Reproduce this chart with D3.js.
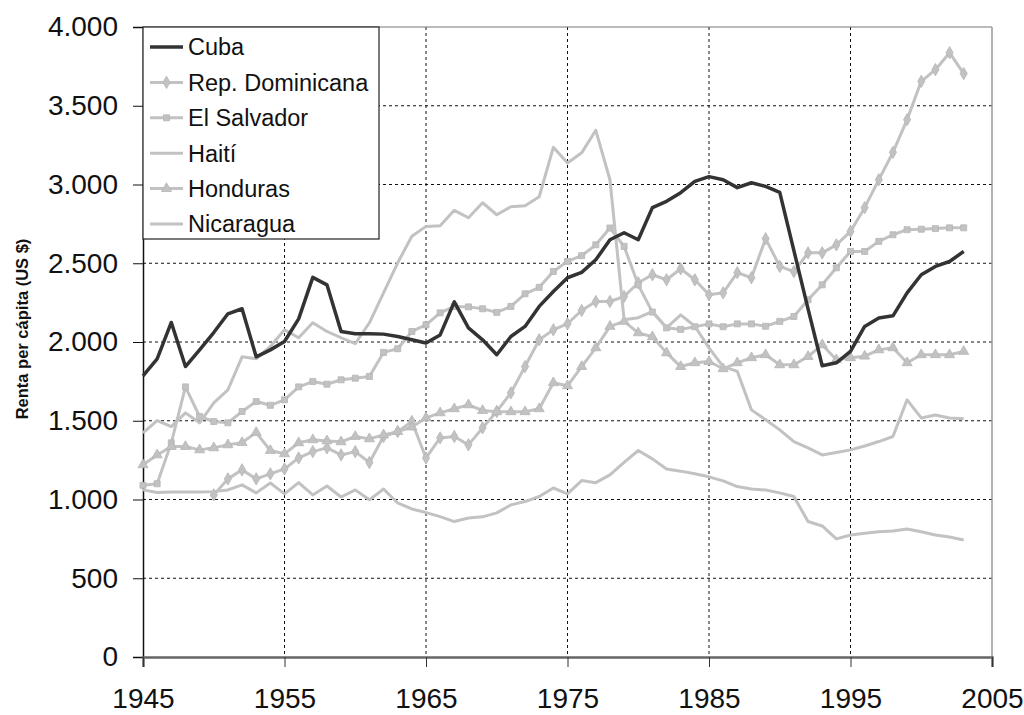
<!DOCTYPE html>
<html>
<head>
<meta charset="utf-8">
<script src="https://cdn.jsdelivr.net/npm/d3@7"></script>
<style>
  body { margin: 0; background: #fff; }
  svg { display: block; font-family: "Liberation Sans", Arial, sans-serif; }
</style>
</head>
<body>
<div id="chart"></div>
<script>
// años 1945..2003
var years = d3.range(1945, 2004);

var cuba = [1785,1893,2124,1844,1950,2060,2179,2211,1906,1950,
  2003,2147,2410,2363,2067,2052,2052,2050,2035,2014,
  1994,2045,2255,2090,2014,1919,2035,2099,2226,2321,
  2408,2442,2522,2649,2694,2649,2853,2893,2948,3020,
  3050,3030,2980,3011,2988,2950,2580,2210,1849,1868,
  1940,2099,2153,2166,2312,2427,2480,2511,2575];

var repDominicana = [null,null,null,null,null,1029,1131,1188,1131,1163,
  1194,1264,1304,1328,1283,1304,1235,1400,1431,1495,
  1264,1391,1400,1347,1455,1559,1677,1844,2014,2077,
  2116,2200,2257,2257,2289,2376,2427,2395,2465,2395,
  2300,2312,2440,2408,2656,2480,2447,2566,2566,2617,
  2702,2853,3030,3204,3412,3655,3729,3837,3704];

var elSalvador = [1090,1100,1360,1715,1527,1495,1487,1559,1622,1598,
  1633,1715,1749,1732,1760,1770,1781,1934,1957,2067,
  2109,2185,2226,2223,2211,2188,2226,2306,2347,2448,
  2512,2548,2617,2724,2607,2363,2190,2090,2080,2097,
  2115,2097,2115,2115,2100,2131,2162,2268,2363,2471,
  2575,2575,2639,2681,2713,2716,2720,2725,2725];

var haiti = [1061,1044,1047,1047,1047,1050,1061,1093,1042,1105,
  1036,1107,1029,1086,1016,1061,998,1067,978,940,
  917,891,860,883,890,915,966,987,1019,1073,
  1036,1120,1107,1156,1235,1311,1258,1194,1180,1163,
  1144,1118,1082,1067,1060,1042,1019,860,832,750,
  775,785,795,800,813,795,775,762,743];

var honduras = [1220,1283,1336,1336,1315,1328,1347,1361,1425,1311,
  1290,1360,1379,1372,1366,1400,1385,1410,1431,1460,
  1518,1550,1576,1601,1565,1557,1557,1557,1576,1741,
  1722,1844,1963,2099,2131,2058,2033,1931,1844,1868,
  1876,1830,1868,1900,1919,1855,1855,1908,1982,1887,
  1900,1910,1950,1963,1868,1919,1919,1919,1940];

var nicaragua = [1423,1501,1463,1550,1487,1614,1696,1906,1893,1972,
  2078,2027,2122,2067,2027,1989,2122,2312,2503,2671,
  2734,2738,2836,2789,2884,2808,2859,2865,2922,3236,
  3137,3201,3344,3030,2141,2154,2193,2090,2172,2100,
  1963,1844,1813,1569,1506,1442,1368,1328,1283,1298,
  1315,1340,1368,1400,1633,1518,1537,1518,1512];

var seriesNames = ["Cuba","Rep. Dominicana","El Salvador","Haití","Honduras","Nicaragua"];
var seriesValues = [cuba, repDominicana, elSalvador, haiti, honduras, nicaragua];
var seriesMarkers = [null, d3.symbolDiamond, d3.symbolSquare, null, d3.symbolTriangle, null];

var xTicks = [1945,1955,1965,1975,1985,1995,2005];
var yTicks = [0,500,1000,1500,2000,2500,3000,3500,4000];
var yTitle = "Renta per cápita (US $)";

var width = 1024, height = 715;
var plotLeft = 143, plotRight = 992, plotTop = 27, plotBottom = 657;
var gray = "#c2c2c2";

var locale = d3.formatLocale({decimal: ",", thousands: ".", grouping: [3], currency: ["", ""]});
var fmt = locale.format(",d");

var svg = d3.select("#chart").append("svg")
  .attr("width", width)
  .attr("height", height);

svg.append("rect").attr("width", width).attr("height", height).attr("fill", "#fff");

var x = d3.scaleLinear().domain([1945, 2005]).range([plotLeft, plotRight]);
var y = d3.scaleLinear().domain([0, 4000]).range([plotBottom, plotTop]);

// rejilla
svg.append("g")
  .selectAll("line")
  .data(yTicks.filter(function(d){ return d > 0 && d < 4000; }))
  .enter().append("line")
  .attr("x1", plotLeft).attr("x2", plotRight)
  .attr("y1", function(d){ return y(d); })
  .attr("y2", function(d){ return y(d); })
  .attr("stroke", "#111").attr("stroke-width", 1)
  .attr("stroke-dasharray", "3,3");

svg.append("g")
  .selectAll("line")
  .data(xTicks.filter(function(d){ return d > 1945 && d < 2005; }))
  .enter().append("line")
  .attr("x1", function(d){ return x(d); })
  .attr("x2", function(d){ return x(d); })
  .attr("y1", plotTop).attr("y2", plotBottom)
  .attr("stroke", "#111").attr("stroke-width", 1)
  .attr("stroke-dasharray", "3,3");

// borde del área
svg.append("line").attr("x1", plotLeft).attr("x2", plotRight).attr("y1", plotTop).attr("y2", plotTop)
  .attr("stroke", "#777").attr("stroke-width", 1);
svg.append("line").attr("x1", plotRight).attr("x2", plotRight).attr("y1", plotTop).attr("y2", plotBottom)
  .attr("stroke", "#999").attr("stroke-width", 1.5);

// ejes
var yAxis = svg.append("g")
  .attr("transform", "translate(" + plotLeft + ",0)")
  .call(d3.axisLeft(y).tickValues(yTicks).tickFormat(fmt).tickSize(10).tickPadding(15));
yAxis.select(".domain").attr("stroke", "#111").attr("stroke-width", 1.5);
yAxis.selectAll(".tick line").attr("stroke", "#111");
yAxis.selectAll("text").attr("font-size", 28).attr("fill", "#111")
  .attr("font-family", "Liberation Sans, Arial, sans-serif");

var xAxis = svg.append("g")
  .attr("transform", "translate(0," + plotBottom + ")")
  .call(d3.axisBottom(x).tickValues(xTicks).tickFormat(d3.format("d")).tickSize(10).tickPadding(21));
xAxis.select(".domain").attr("stroke", "#666").attr("stroke-width", 2.5);
xAxis.selectAll(".tick line").attr("stroke", "#333");
xAxis.selectAll("text").attr("font-size", 28).attr("fill", "#111")
  .attr("font-family", "Liberation Sans, Arial, sans-serif");

svg.append("text")
  .attr("transform", "translate(28,329) rotate(-90)")
  .attr("text-anchor", "middle")
  .attr("font-size", 16.5)
  .attr("font-weight", "bold")
  .attr("fill", "#111")
  .text(yTitle);

// series
var line = d3.line()
  .defined(function(d){ return d != null; })
  .x(function(d, i){ return x(years[i]); })
  .y(function(d){ return y(d); });

var order = [1, 2, 3, 4, 5, 0];
order.forEach(function(s){
  var isCuba = s === 0;
  svg.append("path")
    .datum(seriesValues[s])
    .attr("fill", "none")
    .attr("stroke", isCuba ? "#333" : gray)
    .attr("stroke-width", isCuba ? 3.5 : 3)
    .attr("stroke-linejoin", "round")
    .attr("d", line);
  if (seriesMarkers[s]) {
    var sym = d3.symbol().type(seriesMarkers[s]).size(seriesMarkers[s] === d3.symbolSquare ? 36 : 44);
    svg.append("g").selectAll("path")
      .data(seriesValues[s].map(function(v, i){ return {v: v, yr: years[i]}; })
        .filter(function(d){ return d.v != null; }))
      .enter().append("path")
      .attr("d", sym)
      .attr("transform", function(d){ return "translate(" + x(d.yr) + "," + y(d.v) + ")"; })
      .attr("fill", gray)
      .attr("stroke", "#b5b5b5")
      .attr("stroke-width", 0.8);
  }
});

// leyenda
var legend = svg.append("g");
legend.append("rect")
  .attr("x", plotLeft).attr("y", plotTop)
  .attr("width", 236).attr("height", 212)
  .attr("fill", "#fff").attr("stroke", "#222").attr("stroke-width", 1.2);

seriesNames.forEach(function(name, i){
  var ly = 47 + i * 35.4;
  var isCuba = i === 0;
  legend.append("line")
    .attr("x1", 150).attr("x2", 183).attr("y1", ly).attr("y2", ly)
    .attr("stroke", isCuba ? "#333" : gray)
    .attr("stroke-width", isCuba ? 3.5 : 3);
  if (seriesMarkers[i]) {
    legend.append("path")
      .attr("d", d3.symbol().type(seriesMarkers[i]).size(seriesMarkers[i] === d3.symbolSquare ? 36 : 44))
      .attr("transform", "translate(166.5," + ly + ")")
      .attr("fill", gray).attr("stroke", "#b5b5b5").attr("stroke-width", 0.8);
  }
  legend.append("text")
    .attr("x", 188).attr("y", ly)
    .attr("dy", "0.36em")
    .attr("font-size", 23.5)
    .attr("fill", "#111")
    .text(name);
});
</script>
</body>
</html>
